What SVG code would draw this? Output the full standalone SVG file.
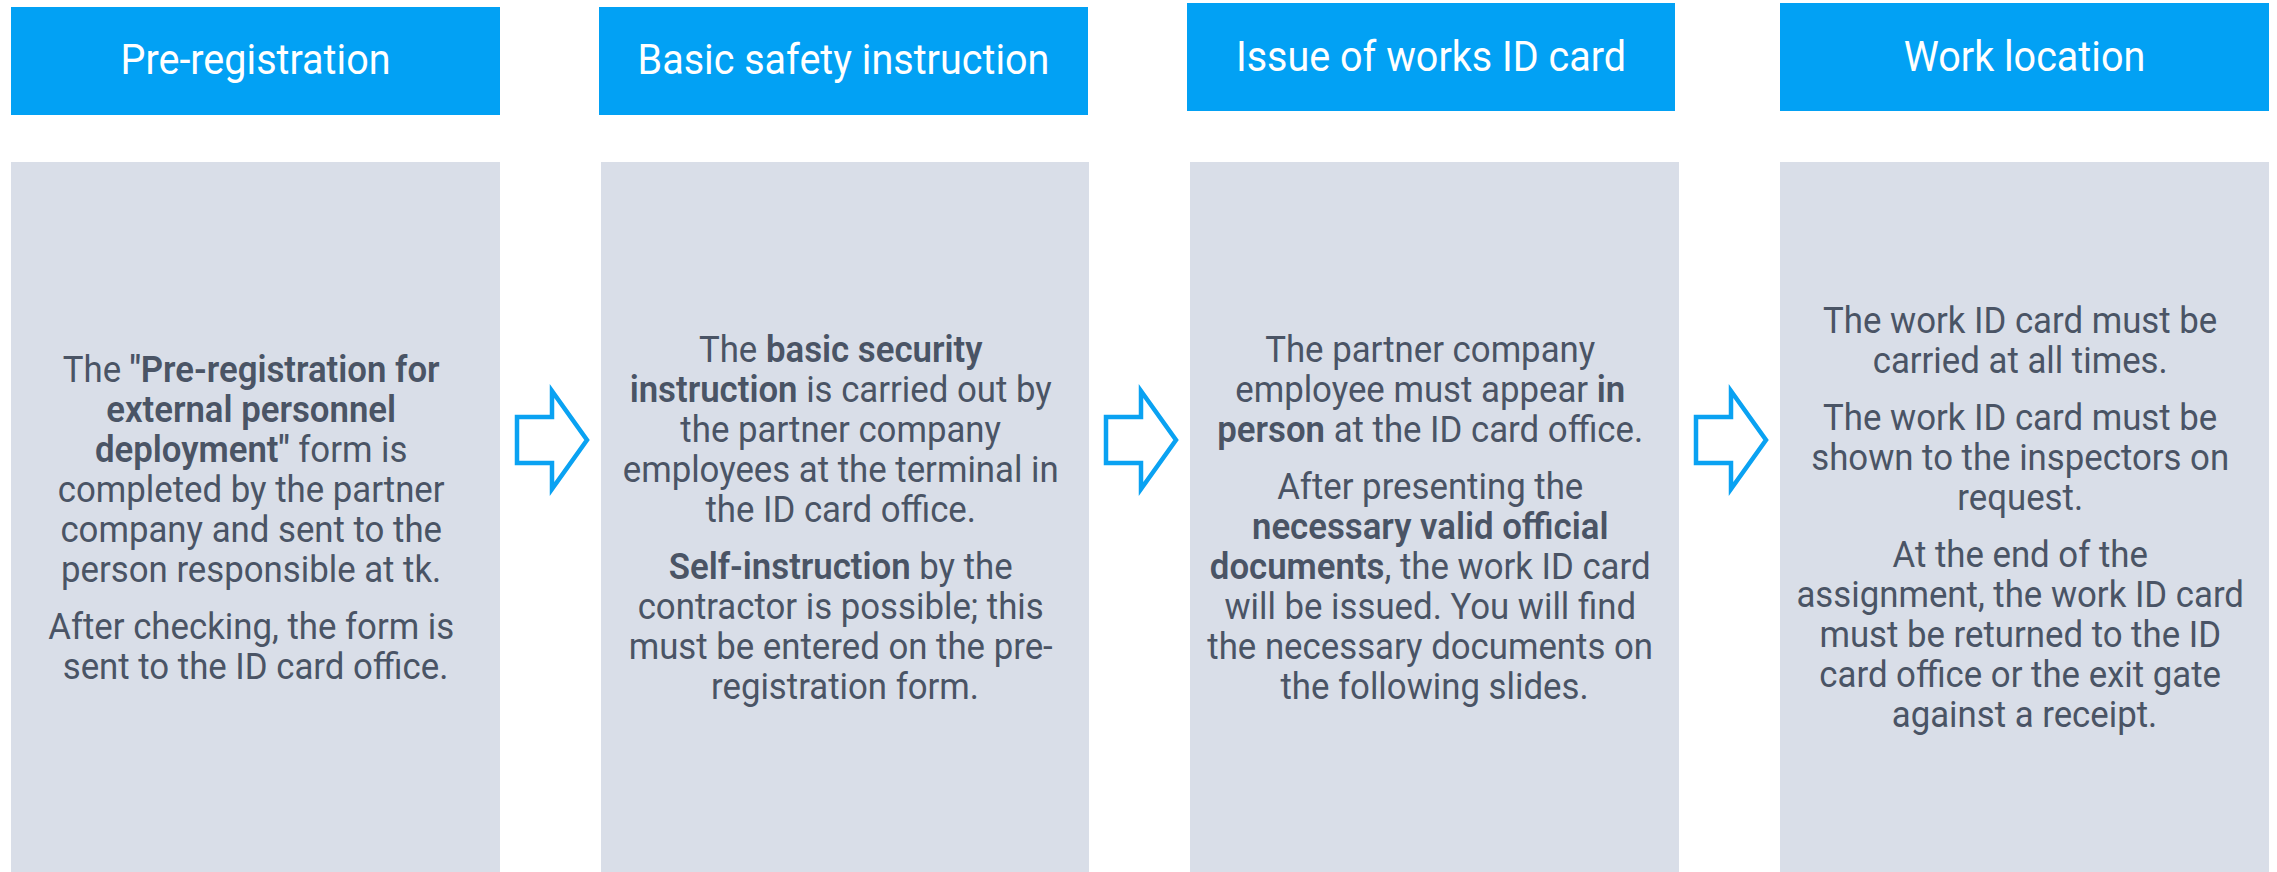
<svg xmlns="http://www.w3.org/2000/svg" width="2277" height="872" viewBox="0 0 2277 872">
<style>
.hdr{fill:#02A1F4}
.card{fill:#D9DEE8}
.ht{font-family:Roboto,"Liberation Sans",sans-serif;font-size:43px;fill:#FFFFFF;text-anchor:middle}
.bt{font-family:Roboto,"Liberation Sans",sans-serif;font-size:37px;fill:#4A5465;text-anchor:middle}
.b{font-weight:600}
.arr{fill:#FFFFFF;stroke:#0AA2F2;stroke-width:4.5;stroke-linejoin:miter}
</style>
<rect width="2277" height="872" fill="#FFFFFF"/>
<g id="step1">
<rect class="hdr" x="11" y="7" width="489" height="108"/>
<text class="ht" transform="translate(255.5 74) scale(0.92 1)" x="0" y="0">Pre-registration</text>
<rect class="card" x="11" y="162" width="489" height="710"/>
<text class="bt" transform="translate(255.5 0) scale(0.94 1)">
<tspan x="0" y="382">The <tspan class="b">"Pre-registration for</tspan></tspan>
<tspan x="0" y="422" class="b">external personnel</tspan>
<tspan x="0" y="462"><tspan class="b">deployment"</tspan> form is</tspan>
<tspan x="0" y="502">completed by the partner</tspan>
<tspan x="0" y="542">company and sent to the</tspan>
<tspan x="0" y="582">person responsible at tk.</tspan>
<tspan x="0" y="639">After checking, the form is</tspan>
<tspan x="0" y="679">sent to the ID card office.</tspan>
</text>
</g>
<g id="step2">
<rect class="hdr" x="599" y="7" width="489" height="108"/>
<text class="ht" transform="translate(843.5 74) scale(0.92 1)" x="0" y="0">Basic safety instruction</text>
<rect class="card" x="601" y="162" width="488" height="710"/>
<text class="bt" transform="translate(845 0) scale(0.94 1)">
<tspan x="0" y="362">The <tspan class="b">basic security</tspan></tspan>
<tspan x="0" y="402"><tspan class="b">instruction</tspan> is carried out by</tspan>
<tspan x="0" y="442">the partner company</tspan>
<tspan x="0" y="482">employees at the terminal in</tspan>
<tspan x="0" y="522">the ID card office.</tspan>
<tspan x="0" y="579"><tspan class="b">Self-instruction</tspan> by the</tspan>
<tspan x="0" y="619">contractor is possible; this</tspan>
<tspan x="0" y="659">must be entered on the pre-</tspan>
<tspan x="0" y="699">registration form.</tspan>
</text>
</g>
<g id="step3">
<rect class="hdr" x="1187" y="3" width="488" height="108"/>
<text class="ht" transform="translate(1431 71) scale(0.92 1)" x="0" y="0">Issue of works ID card</text>
<rect class="card" x="1190" y="162" width="489" height="710"/>
<text class="bt" transform="translate(1434.5 0) scale(0.94 1)">
<tspan x="0" y="362">The partner company</tspan>
<tspan x="0" y="402">employee must appear <tspan class="b">in</tspan></tspan>
<tspan x="0" y="442"><tspan class="b">person</tspan> at the ID card office.</tspan>
<tspan x="0" y="499">After presenting the</tspan>
<tspan x="0" y="539" class="b">necessary valid official</tspan>
<tspan x="0" y="579"><tspan class="b">documents</tspan>, the work ID card</tspan>
<tspan x="0" y="619">will be issued. You will find</tspan>
<tspan x="0" y="659">the necessary documents on</tspan>
<tspan x="0" y="699">the following slides.</tspan>
</text>
</g>
<g id="step4">
<rect class="hdr" x="1780" y="3" width="489" height="108"/>
<text class="ht" transform="translate(2024.5 71) scale(0.92 1)" x="0" y="0">Work location</text>
<rect class="card" x="1780" y="162" width="489" height="710"/>
<text class="bt" transform="translate(2024.5 0) scale(0.94 1)">
<tspan x="0" y="333">The work ID card must be</tspan>
<tspan x="0" y="373">carried at all times.</tspan>
<tspan x="0" y="430">The work ID card must be</tspan>
<tspan x="0" y="470">shown to the inspectors on</tspan>
<tspan x="0" y="510">request.</tspan>
<tspan x="0" y="567">At the end of the</tspan>
<tspan x="0" y="607">assignment, the work ID card</tspan>
<tspan x="0" y="647">must be returned to the ID</tspan>
<tspan x="0" y="687">card office or the exit gate</tspan>
<tspan x="0" y="727">against a receipt.</tspan>
</text>
</g>
<g id="connectors">
<path class="arr" d="M517,417 H552 V391 L587,440 L552,489 V463 H517 Z"/>
<path class="arr" d="M1106,417 H1141 V391 L1176,440 L1141,489 V463 H1106 Z"/>
<path class="arr" d="M1696,417 H1731 V391 L1766,440 L1731,489 V463 H1696 Z"/>
</g>
</svg>
